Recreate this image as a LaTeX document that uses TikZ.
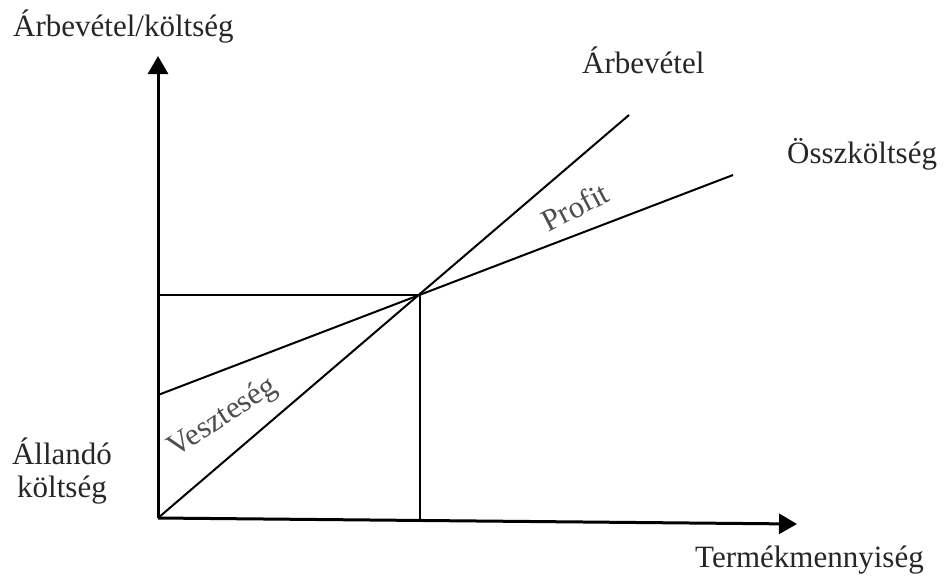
\documentclass[tikz,border=0pt]{standalone}
\usepackage{fontspec}
\setmainfont{Liberation Serif}
\usetikzlibrary{arrows.meta}
\begin{document}
\begin{tikzpicture}[x=1pt,y=-1pt,
  lbl/.style={inner sep=0pt, font=\fontsize{31}{35}\selectfont, text=black!85},
  axis/.style={line width=3pt, -{Triangle[length=18pt,width=20pt]}},
  curve/.style={line width=2pt},
  guide/.style={line width=2pt}]
\useasboundingbox (0,0) rectangle (947,579);
% axes
\coordinate (O) at (158,518);
\coordinate (ytip) at (158,56);
\coordinate (xtip) at (797,524);
\draw[axis] (O) -- (ytip);
\draw[axis] (O) -- (xtip);
% revenue and total cost lines
\coordinate (revEnd) at (629,115);
\coordinate (fix) at (158,395);
\coordinate (costEnd) at (733,175);
\coordinate (be) at (420,295);
\draw[curve] (O) -- (revEnd);
\draw[curve] (fix) -- (costEnd);
% break-even guides
\coordinate (beY) at (158,295);
\coordinate (beX) at (420,521);
\draw[guide] (beY) -- (be) -- (beX);
% labels
\node[lbl, anchor=base west] (ylab) at (13,36) {Árbevétel/költség};
\node[lbl, anchor=base west] (revlab) at (582,73) {Árbevétel};
\node[lbl, anchor=base west] (costlab) at (787,163) {Összköltség};
\node[lbl, anchor=base west] (xlab) at (695,567) {Termékmennyiség};
\node[lbl, align=center, anchor=base] (fixlab) at (62,497) {Állandó\\[-2pt]költség};
\node[lbl, rotate=27.5, text=black!70] (profit) at (575,207) {Profit};
\node[lbl, rotate=33, text=black!70] (loss) at (223,418) {Veszteség};
\end{tikzpicture}
\end{document}
